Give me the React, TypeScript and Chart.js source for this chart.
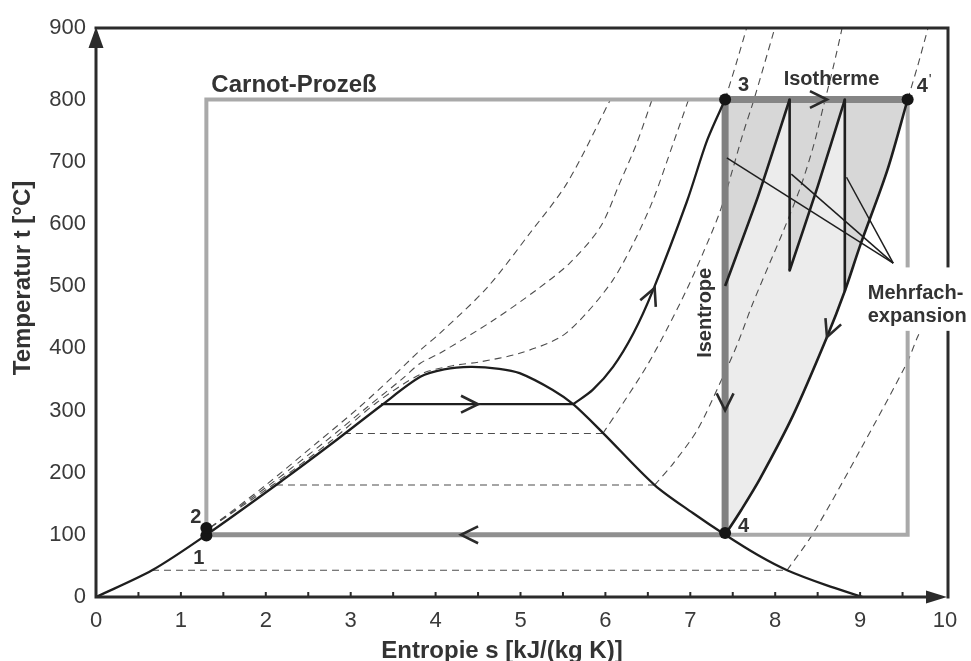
import React, { useEffect, useRef } from 'react';
import { Chart, registerables } from 'chart.js';

Chart.register(...registerables);

const FAMILY = "'Liberation Sans', Arial, Helvetica, sans-serif";

// ---- axes ----
const S_MIN = 0;
const S_MAX = 10;
const T_MIN = 0;
const T_MAX = 915;
const S_TICKS = [0, 1, 2, 3, 4, 5, 6, 7, 8, 9, 10];
const S_MINOR_TICKS = [0.5, 1, 1.5, 2, 2.5, 3, 3.5, 4, 4.5, 5, 5.5, 6, 6.5, 7, 7.5, 8, 8.5, 9, 9.5];
const T_TICK_VALUES = [0, 100, 200, 300, 400, 500, 600, 700, 800, 915];
const T_TICK_LABELS = ['0', '100', '200', '300', '400', '500', '600', '700', '800', '900'];

// ---- saturation dome ----
const DOME_S = [0, 0.66, 1.3, 2.2, 2.79, 3.36, 3.82, 4.1, 4.41, 4.75, 4.99, 5.38, 5.62, 5.97, 6.58, 7.03, 7.41, 7.8, 8.14, 8.6, 9.03];
const DOME_T = [0, 43, 100, 188, 248, 308, 354, 366, 370, 367, 360, 333, 310, 264, 180, 135, 100, 67, 43, 19, 0];

// ---- high pressure isobar (process 2-3) ----
const HIGH_WET_S = [3.36, 5.62];
const HIGH_WET_T = [310, 310];
const HIGH_SUP_S = [5.62, 5.85, 6.09, 6.33, 6.56, 6.96, 7.2, 7.41];
const HIGH_SUP_T = [310, 333, 370, 424, 493, 636, 735, 800];
const HIGH_ABOVE_S = [7.41, 7.55, 7.67];
const HIGH_ABOVE_T = [800, 862, 918];

// ---- other isobars (dashed) ----
const P265_WET_S = [2.92, 5.97];
const P265_WET_T = [263, 263];
const P265_SUP_S = [5.97, 6.2, 6.49, 6.73, 6.96, 7.15, 7.35, 7.5, 7.62, 7.75, 7.97, 8.01];
const P265_SUP_T = [263, 310, 372, 432, 495, 553, 620, 688, 745, 800, 903, 922];

const P180_WET_S = [2.12, 6.58];
const P180_WET_T = [180, 180];
const P180_SUP_S = [6.58, 6.8, 7.08, 7.35, 7.55, 7.73, 7.92, 8.1, 8.3, 8.45, 8.57, 8.68, 8.78, 8.8];
const P180_SUP_T = [180, 215, 268, 344, 405, 470, 532, 590, 660, 725, 790, 850, 910, 925];

const P43_WET_S = [0.66, 8.14];
const P43_WET_T = [43, 43];
const P43_SUP_S = [8.14, 8.45, 9.0, 9.55, 9.67, 9.85, 10.05];
const P43_SUP_T = [43, 103, 236, 376, 416, 470, 525];

const SUPER_A_S = [1.35, 2.0, 2.62, 3.1, 3.5, 3.82, 4.05, 4.61, 5.11, 5.55, 6.06];
const SUPER_A_T = [112, 180, 250, 305, 355, 397, 424, 498, 585, 666, 800];
const SUPER_B_S = [1.35, 2.04, 2.7, 3.2, 3.6, 3.82, 4.05, 4.68, 5.19, 5.58, 5.94, 6.17, 6.37, 6.55];
const SUPER_B_T = [112, 180, 250, 306, 350, 376, 392, 445, 494, 537, 595, 666, 730, 800];
const SUPER_C_S = [1.35, 2.08, 2.76, 3.3, 3.82, 4.2, 4.52, 4.99, 5.47, 5.78, 6.09, 6.33, 6.56, 6.8, 6.98];
const SUPER_C_T = [112, 180, 250, 312, 358, 372, 378, 392, 418, 457, 510, 569, 638, 730, 800];

// ---- low pressure isobar (4 - 4') ----
const LOW_S = [7.41, 7.6, 7.82, 8.21, 8.61, 8.82, 9.0, 9.32, 9.56];
const LOW_T = [100, 140, 190, 292, 418, 492, 565, 686, 800];
const LOW_ABOVE_S = [9.56, 9.68, 9.8, 9.82];
const LOW_ABOVE_T = [800, 855, 915, 925];

// ---- multiple expansion ----
const REHEAT1_S = [7.41, 7.8, 8.17];
const REHEAT1_T = [500, 645, 800];
const REHEAT2_S = [8.17, 8.5, 8.82];
const REHEAT2_T = [525, 660, 800];
const STAGE1_S = [8.17, 8.17];
const STAGE1_T = [800, 525];
const STAGE2_S = [8.82, 8.82];
const STAGE2_T = [800, 492];

// ---- Carnot process ----
const CARNOT_S_LEFT = 1.3;
const CARNOT_S_RIGHT = 9.56;
const CARNOT_S_ISENTROPE = 7.41;
const CARNOT_T_LOW = 100;
const CARNOT_T_HIGH = 800;

// ---- state points ----
const POINT_S = [1.3, 1.3, 7.41, 7.41, 9.56];
const POINT_T = [99, 111, 800, 103, 800];

// ---- leader lines for "Mehrfachexpansion" ----
const LEADER_FROM = [9.39, 537];
const LEADER_TO_S = [7.43, 8.19, 8.84];
const LEADER_TO_T = [706, 680, 675];

// ---- direction arrows: tip and a point behind it ----
const ARROW_TIP_S = [4.5, 6.58, 8.61, 7.41, 4.3, 8.61];
const ARROW_TIP_T = [310, 497, 800, 300, 100, 418];
const ARROW_BACK_S = [4.2, 6.45, 8.4, 7.41, 4.6, 8.75];
const ARROW_BACK_T = [310, 455, 800, 340, 100, 466];

const pts = (s: number[], t: number[]) => s.map((v, i) => ({ x: v, y: t[i] }));

function line(data: any[], color: string, width: number, extra: any = {}) {
  return {
    type: 'line',
    data,
    borderColor: color,
    borderWidth: width,
    pointRadius: 0,
    pointHoverRadius: 0,
    fill: false,
    tension: 0,
    borderCapStyle: 'butt',
    borderJoinStyle: 'round',
    ...extra,
  };
}
function dashed(data: any[], tension = 0.3) {
  return line(data, '#4d4d4d', 1.1, { borderDash: [7, 5], tension });
}
function poly(data: any[], color: string) {
  return {
    type: 'line',
    data,
    borderWidth: 0,
    borderColor: 'rgba(0,0,0,0)',
    backgroundColor: color,
    pointRadius: 0,
    fill: 'shape',
    tension: 0,
  };
}

const decor = {
  id: 'decor',
  afterDatasetsDraw(chart: any) {
    const { ctx, scales } = chart;
    const xs = scales.x;
    const ys = scales.y;
    const X = (v: number) => xs.getPixelForValue(v);
    const Y = (v: number) => ys.getPixelForValue(v);
    const left = X(S_MIN);
    const right = X(S_MAX);
    const bottom = Y(T_MIN);
    const top = Y(T_MAX);
    ctx.save();

    // direction arrows (open chevrons)
    for (let i = 0; i < ARROW_TIP_S.length; i++) {
      const tx = X(ARROW_TIP_S[i]);
      const ty = Y(ARROW_TIP_T[i]);
      const bx = X(ARROW_BACK_S[i]);
      const by = Y(ARROW_BACK_T[i]);
      const ang = Math.atan2(ty - by, tx - bx);
      const len = 19;
      const a = 0.46;
      ctx.strokeStyle = '#2a2a2a';
      ctx.lineWidth = 2.6;
      ctx.lineJoin = 'miter';
      ctx.beginPath();
      ctx.moveTo(tx - len * Math.cos(ang - a), ty - len * Math.sin(ang - a));
      ctx.lineTo(tx, ty);
      ctx.lineTo(tx - len * Math.cos(ang + a), ty - len * Math.sin(ang + a));
      ctx.stroke();
    }

    // frame and axes
    ctx.strokeStyle = '#2b2b2b';
    ctx.fillStyle = '#2b2b2b';
    ctx.lineWidth = 3;
    ctx.lineCap = 'butt';
    ctx.beginPath();
    ctx.moveTo(left, bottom);
    ctx.lineTo(left, top + 18);
    ctx.moveTo(left - 1.5, top);
    ctx.lineTo(right + 3, top);
    ctx.lineTo(right + 3, bottom + 1.5);
    ctx.moveTo(left - 1.5, bottom);
    ctx.lineTo(right - 18, bottom);
    ctx.stroke();
    // arrow heads
    ctx.beginPath();
    ctx.moveTo(left, top - 1);
    ctx.lineTo(left - 7.5, top + 20);
    ctx.lineTo(left + 7.5, top + 20);
    ctx.closePath();
    ctx.fill();
    ctx.beginPath();
    ctx.moveTo(right + 2, bottom);
    ctx.lineTo(right - 19, bottom - 6.5);
    ctx.lineTo(right - 19, bottom + 6.5);
    ctx.closePath();
    ctx.fill();
    // minor tick marks
    ctx.lineWidth = 2;
    ctx.beginPath();
    for (const v of S_MINOR_TICKS) {
      ctx.moveTo(X(v), bottom);
      ctx.lineTo(X(v), bottom - 5);
    }
    ctx.stroke();

    // white box behind the label (gap in the frame)
    ctx.fillStyle = '#ffffff';
    ctx.fillRect(X(9.03), Y(530), chart.width - X(9.03), Y(428) - Y(530));

    // texts
    ctx.fillStyle = '#333333';
    ctx.textAlign = 'left';
    ctx.textBaseline = 'alphabetic';
    ctx.font = `bold 24px ${FAMILY}`;
    ctx.fillText('Carnot-Prozeß', X(CARNOT_S_LEFT) + 5, Y(CARNOT_T_HIGH) - 8);
    ctx.font = `bold 20px ${FAMILY}`;
    ctx.fillText('Isotherme', X(8.1), Y(CARNOT_T_HIGH) - 15);
    ctx.fillText('3', X(POINT_S[2]) + 13, Y(CARNOT_T_HIGH) - 9);
    ctx.fillText('4', X(POINT_S[3]) + 13, Y(CARNOT_T_LOW) - 3);
    ctx.fillText('4', X(POINT_S[4]) + 9, Y(CARNOT_T_HIGH) - 8);
    ctx.font = `15px ${FAMILY}`;
    ctx.fillText("'", X(POINT_S[4]) + 21, Y(CARNOT_T_HIGH) - 16);
    ctx.font = `bold 20px ${FAMILY}`;
    ctx.fillText('2', X(CARNOT_S_LEFT) - 16, Y(CARNOT_T_LOW) - 12);
    ctx.fillText('1', X(CARNOT_S_LEFT) - 13, Y(CARNOT_T_LOW) + 29);
    ctx.fillText('Mehrfach-', X(9.09), Y(480));
    ctx.fillText('expansion', X(9.09), Y(443));

    ctx.save();
    ctx.translate(X(CARNOT_S_ISENTROPE) - 20, Y(457));
    ctx.rotate(-Math.PI / 2);
    ctx.textAlign = 'center';
    ctx.textBaseline = 'middle';
    ctx.fillText('Isentrope', 0, 0);
    ctx.restore();

    // axis titles
    ctx.font = `bold 24px ${FAMILY}`;
    ctx.textAlign = 'center';
    ctx.textBaseline = 'alphabetic';
    ctx.fillText('Entropie s [kJ/(kg K)]', 502, 658);
    ctx.save();
    ctx.translate(23, 278);
    ctx.rotate(-Math.PI / 2);
    ctx.textBaseline = 'middle';
    ctx.fillText('Temperatur t [°C]', 0, 0);
    ctx.restore();

    ctx.restore();
  },
};

export default function App() {
  const ref = useRef<HTMLCanvasElement | null>(null);

  useEffect(() => {
    if (!ref.current) return;

    const cl = CARNOT_S_LEFT, cr = CARNOT_S_RIGHT, ci = CARNOT_S_ISENTROPE;
    const lo = CARNOT_T_LOW, hi = CARNOT_T_HIGH;
    const lowPts = pts(LOW_S, LOW_T);

    const list: any[] = [
      // shading
      poly([{ x: ci, y: hi }, ...lowPts, { x: cr, y: hi }], '#ececec'),
      poly([{ x: ci, y: hi }, ...pts(REHEAT1_S, REHEAT1_T)], '#d7d7d7'),
      poly([{ x: STAGE1_S[0], y: hi }, ...pts(REHEAT2_S, REHEAT2_T)], '#d7d7d7'),
      poly([{ x: STAGE2_S[0], y: hi }, ...lowPts.slice(5)], '#d7d7d7'),
      // dashed isobars
      dashed(pts(P43_WET_S, P43_WET_T), 0),
      dashed(pts(P43_SUP_S, P43_SUP_T)),
      dashed(pts(P180_WET_S, P180_WET_T), 0),
      dashed(pts(P180_SUP_S, P180_SUP_T)),
      dashed(pts(P265_WET_S, P265_WET_T), 0),
      dashed(pts(P265_SUP_S, P265_SUP_T)),
      dashed(pts(SUPER_A_S, SUPER_A_T)),
      dashed(pts(SUPER_B_S, SUPER_B_T)),
      dashed(pts(SUPER_C_S, SUPER_C_T)),
      dashed(pts(HIGH_ABOVE_S, HIGH_ABOVE_T)),
      dashed(pts(LOW_ABOVE_S, LOW_ABOVE_T)),
      // Carnot rectangle (light grey)
      line([{ x: cl, y: lo }, { x: cl, y: hi }, { x: ci, y: hi }], '#a9a9a9', 4, { borderJoinStyle: 'miter' }),
      line([{ x: ci, y: lo }, { x: cr, y: lo }, { x: cr, y: hi }], '#a9a9a9', 4, { borderJoinStyle: 'miter' }),
      // Carnot process lines (dark grey)
      line([{ x: cl, y: lo }, { x: ci, y: lo }], '#8f8f8f', 5),
      line([{ x: ci, y: hi }, { x: ci, y: lo }], '#808080', 7),
      line([{ x: ci, y: hi }, { x: cr, y: hi }], '#858585', 7),
      // saturation dome and process curves
      line(pts(DOME_S, DOME_T), '#1e1e1e', 2.3, { tension: 0.3 }),
      line(pts(HIGH_WET_S, HIGH_WET_T), '#1e1e1e', 2.3),
      line(pts(HIGH_SUP_S, HIGH_SUP_T), '#1e1e1e', 2.3, { tension: 0.3 }),
      line(lowPts, '#1e1e1e', 2.6, { tension: 0.3 }),
      line(pts(REHEAT1_S, REHEAT1_T), '#1e1e1e', 2.6, { tension: 0.2 }),
      line(pts(REHEAT2_S, REHEAT2_T), '#1e1e1e', 2.6, { tension: 0.2 }),
      line(pts(STAGE1_S, STAGE1_T), '#1e1e1e', 2.6),
      line(pts(STAGE2_S, STAGE2_T), '#1e1e1e', 2.6),
      // leader lines
      ...LEADER_TO_S.map((s, i) =>
        line([{ x: s, y: LEADER_TO_T[i] }, { x: LEADER_FROM[0], y: LEADER_FROM[1] }], '#1e1e1e', 1.5)
      ),
      // state points
      {
        type: 'line',
        data: pts(POINT_S, POINT_T),
        showLine: false,
        pointRadius: 6,
        pointBackgroundColor: '#151515',
        pointBorderWidth: 0,
        pointBorderColor: '#151515',
      },
    ];
    const datasets = list.map((d, i) => ({ ...d, order: -i }));

    const chart = new Chart(ref.current, {
      type: 'line',
      data: { datasets },
      options: {
        animation: false,
        responsive: false,
        events: [],
        layout: { padding: { top: 28, right: 26, left: 0, bottom: 0 } },
        plugins: {
          legend: { display: false },
          tooltip: { enabled: false },
        },
        scales: {
          x: {
            type: 'linear',
            min: S_MIN,
            max: S_MAX,
            grid: { display: false, drawTicks: false },
            border: { display: false },
            afterBuildTicks: (s: any) => {
              s.ticks = S_TICKS.map((v) => ({ value: v }));
            },
            ticks: {
              padding: 11,
              color: '#3a3a3a',
              font: { family: FAMILY, size: 22 },
              maxRotation: 0,
              autoSkip: false,
              callback: (v: any) => String(v),
            },
            afterFit: (s: any) => {
              s.height = 64;
              s.paddingLeft = 0;
              s.paddingRight = 0;
            },
          },
          y: {
            type: 'linear',
            min: T_MIN,
            max: T_MAX,
            grid: { display: false, drawTicks: false },
            border: { display: false },
            afterBuildTicks: (s: any) => {
              s.ticks = T_TICK_VALUES.map((v) => ({ value: v }));
            },
            ticks: {
              padding: 10,
              color: '#3a3a3a',
              font: { family: FAMILY, size: 22 },
              autoSkip: false,
              callback: (v: any) => {
                const i = T_TICK_VALUES.indexOf(Number(v));
                return i >= 0 ? T_TICK_LABELS[i] : '';
              },
            },
            afterFit: (s: any) => {
              s.width = 96;
              s.paddingTop = 0;
              s.paddingBottom = 0;
            },
          },
        },
      } as any,
      plugins: [decor],
    } as any);

    return () => chart.destroy();
  }, []);

  return (
    <div style={{ position: 'fixed', left: 0, top: 0, width: 971, height: 661, background: '#fff' }}>
      <canvas ref={ref} width={971} height={661} style={{ display: 'block' }} />
    </div>
  );
}
